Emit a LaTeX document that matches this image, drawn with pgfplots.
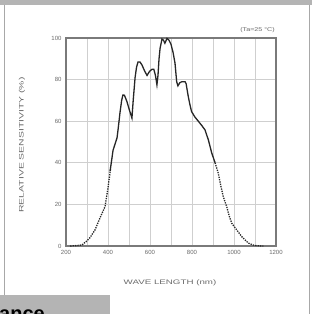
\documentclass[border=0pt]{standalone}
\usepackage{pgfplots}
\pgfplotsset{compat=1.18}
\usepackage{fontspec}
\setmainfont{Liberation Sans}
\definecolor{framegray}{HTML}{A8A8A8}
\definecolor{bargray}{HTML}{B4B4B4}
\definecolor{gridgray}{HTML}{CFCFCF}
\definecolor{axgray}{HTML}{7A7A7A}
\definecolor{txtgray}{HTML}{6A6A6A}
\begin{document}
\begin{tikzpicture}
\useasboundingbox (0,0) rectangle (312pt,314pt);
\clip (0,0) rectangle (312pt,314pt);
\fill[white] (0,0) rectangle (312pt,314pt);
\fill[bargray] (0,309pt) rectangle (312pt,314pt);
\draw[framegray, line width=1.5pt] (4.5pt,-5pt) -- (4.5pt,309pt);
\draw[framegray, line width=1.5pt] (309.5pt,-5pt) -- (309.5pt,309pt);
\begin{axis}[
  at={(66pt,68pt)}, anchor=south west,
  scale only axis, width=210pt, height=208pt,
  xmin=200, xmax=1200, ymin=0, ymax=100,
  xtick={200,400,...,1200}, minor xtick={300,500,...,1100},
  ytick={0,20,...,100},
  grid=both,
  major grid style={gridgray, line width=0.7pt},
  minor grid style={gridgray, line width=0.7pt},
  axis line style={axgray, line width=1.1pt},
  major tick length=0pt, minor tick length=0pt,
  /pgf/number format/assume math mode=true,
  /pgf/number format/1000 sep={},
  ticklabel style={font=\fontsize{6}{7}\selectfont, text=txtgray},
  yticklabel style={xshift=-1pt},
  xticklabel style={yshift=-1pt},
  clip=false,
]
% left tail (dotted)
\addplot[black!85, line width=1.3pt, dash pattern=on 1.3pt off 1.1pt] coordinates {
(220,0) (250,0.2) (276,0.5) (300,2.5) (314,4) (338,7.7) (362,13.5) (386,19) (400,28) (412,37)
};
% main part
\addplot[black!85, line width=1.3pt] coordinates {
(410,36) (424,46) (443,52) (448,56) (457,64) (465,70) (471,72.6) (478,72.5) (490,69.5) (500,66) (514,61.5) (520,70) (529,81) (536,86) (543,88.5) (552,88.5) (562,87) (575,84) (586,82) (598,84) (610,85) (618,85) (626,82) (633,77.5) (638,82) (643,90) (648,95) (657,99.5) (664,99) (671,97.5) (681,99.8) (690,99) (700,97) (710,93) (719,88) (727,79) (733,77) (742,78.5) (752,79) (767,79) (772,78) (782,72) (790,68) (798,64.6) (814,62) (830,60) (846,58) (862,55.8) (878,51) (894,44.7) (910,40)
};
% right tail (dotted)
\addplot[black!85, line width=1.3pt, dash pattern=on 1.3pt off 1.1pt] coordinates {
(910,40) (925,35) (937,29) (949,23.7) (965,19) (977,14.5) (989,11) (1013,7.7) (1037,4.5) (1068,1.4) (1090,0.5) (1110,0.1) (1140,0)
};
\end{axis}
\node[rotate=90, text=txtgray, font=\fontsize{6.5}{7}\selectfont] at (22pt,169pt) {\scalebox{1.6}[1]{RELATIVE SENSITIVITY (\%)}};
\node[text=txtgray, font=\fontsize{6.5}{7}\selectfont] at (170pt,31pt) {\scalebox{1.5}[1]{WAVE LENGTH (nm)}};
\node[text=txtgray, font=\fontsize{5.5}{6}\selectfont, anchor=east, inner sep=0pt] at (275pt,283.5pt) {\scalebox{1.3}[1]{(Ta=25 °C)}};
\fill[bargray] (0,0) rectangle (110pt,19pt);
\node[anchor=base west, inner sep=0pt, font=\fontsize{20}{22}\selectfont\bfseries] at (-1pt,-6.4pt) {ance};
\end{tikzpicture}
\end{document}
